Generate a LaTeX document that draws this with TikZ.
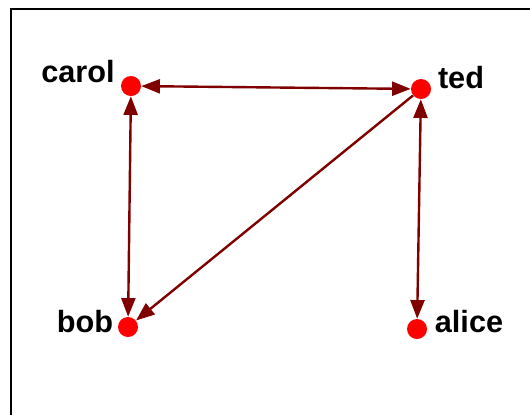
\documentclass[tikz,border=0pt]{standalone}
\usepackage{fontspec}
\setmainfont{Liberation Sans}
\usetikzlibrary{arrows.meta}

\begin{document}
\begin{tikzpicture}[x=0.75pt, y=-0.75pt, every node/.style={font=\bfseries\fontsize{23}{26}\selectfont},
  person/.style={circle, fill=red, inner sep=0pt, minimum size=15pt},
  personlabel/.style={text=black, inner sep=0pt, anchor=base},
  link/.style={draw=red!50!black, line width=1.8pt, -{Triangle[length=14pt, width=10.5pt]}},
  both/.style={link, {Triangle[length=14pt, width=10.5pt]}-{Triangle[length=14pt, width=10.5pt]}}
]
\useasboundingbox (0,0) rectangle (530,415);

% Frame
\draw[line width=1.5pt] (11,415) -- (11,8.5) -- (530,8.5);

% Nodes
\node[person] (carol) at (131,86) {};
\node[person] (ted) at (421,89) {};
\node[person] (bob) at (128,327) {};
\node[person] (alice) at (417,329) {};

% Labels
\node[personlabel] (carollab) at (78,82) {carol};
\node[personlabel] (tedlab) at (461,88) {ted};
\node[personlabel] (boblab) at (85,332) {bob};
\node[personlabel] (alicelab) at (469,332) {alice};

% Arrows
\draw[both] (carol) -- (ted);
\draw[both] (carol) -- (bob);
\draw[link] (ted) -- (bob);
\draw[both] (ted) -- (alice);

\end{tikzpicture}
\end{document}
